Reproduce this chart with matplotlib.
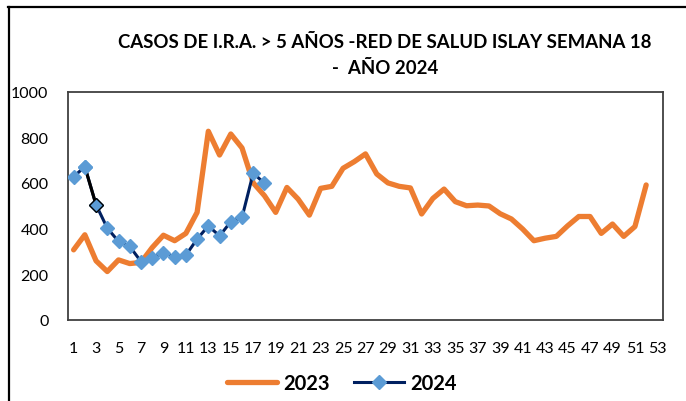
import numpy as np
import matplotlib.pyplot as plt
from matplotlib.lines import Line2D

weeks_2023 = list(range(1, 53))
cases_2023 = [307, 373, 259, 212, 263, 247, 252, 317, 371, 347,
              379, 471, 826, 722, 814, 753, 600, 544, 471, 580,
              529, 459, 576, 585, 664, 693, 727, 639, 600, 585,
              578, 464, 532, 573, 518, 500, 503, 499, 465, 442,
              398, 347, 358, 366, 412, 453, 453, 379, 420, 366,
              409, 591]

weeks_2024 = list(range(1, 19))
cases_2024 = [627, 671, 504, 402, 344, 322, 256, 271, 295, 276,
              284, 354, 412, 368, 430, 449, 643, 598]

x_ticks = list(range(1, 54, 2))
y_ticks = [0, 200, 400, 600, 800, 1000]
title_1 = "CASOS DE I.R.A. > 5 AÑOS -RED DE SALUD ISLAY SEMANA 18"
title_2 = "-  AÑO 2024"

orange = "#ED7D31"
navy = "#002060"
light_blue = "#5B9BD5"

plt.rcParams['font.family'] = ['Lato', 'DejaVu Sans']

fig = plt.figure(figsize=(6.86, 4.02), dpi=100)
ax = fig.add_axes([68 / 686, 1 - 321 / 402, 595 / 686, 228.5 / 402])

ax.plot(weeks_2023, cases_2023, color=orange, lw=3.8, solid_capstyle='round',
        solid_joinstyle='round', zorder=2)
ax.plot(weeks_2024, cases_2024, color=navy, lw=2.2, marker='D', ms=7,
        mfc=light_blue, mec=light_blue, zorder=3)
# segment 2-3 and point 3 are formatted differently in the original
ax.plot(weeks_2024[1:3], cases_2024[1:3], color='black', lw=2.2, zorder=3)
ax.plot(weeks_2024[1], cases_2024[1], 'D', ms=7, mfc=light_blue, mec=light_blue, zorder=4)
ax.plot(weeks_2024[2], cases_2024[2], 'D', ms=7, mfc=light_blue, mec='black', mew=1.0, zorder=4)

ax.set_xlim(0.5, 53.5)
ax.set_ylim(0, 1000)
ax.set_xticks(x_ticks)
ax.set_yticks(y_ticks)
ax.tick_params(length=0, labelsize=11.5)
ax.tick_params(axis='x', pad=15)
ax.tick_params(axis='y', pad=14)
for s in ax.spines.values():
    s.set_color('#404040')
    s.set_linewidth(1.3)

fig.text(385 / 686, 1 - 42 / 402, title_1, ha='center', va='center',
         fontsize=13.4, fontweight='bold')
fig.text(385 / 686, 1 - 68 / 402, title_2, ha='center', va='center',
         fontsize=13.4, fontweight='bold')

handles = [Line2D([], [], color=orange, lw=3.8, solid_capstyle='round'),
           Line2D([], [], color=navy, lw=2.2, marker='D', ms=7,
                  mfc=light_blue, mec=light_blue)]
fig.legend(handles, ['2023', '2024'], loc='center', bbox_to_anchor=(342 / 686, 1 - 384 / 402),
           ncol=2, frameon=False, prop={'weight': 'bold', 'size': 14.5},
           handlelength=2.5, handletextpad=0.3, columnspacing=1.2)

fig.add_artist(Line2D([8.5 / 686, 8.5 / 686], [0, 1 - 7.5 / 402], color='black', lw=1.6,
                      transform=fig.transFigure))
fig.add_artist(Line2D([8 / 686, 1], [1 - 7.5 / 402, 1 - 7.5 / 402], color='black', lw=1.6,
                      transform=fig.transFigure))

fig.savefig('out.png', dpi=100)
